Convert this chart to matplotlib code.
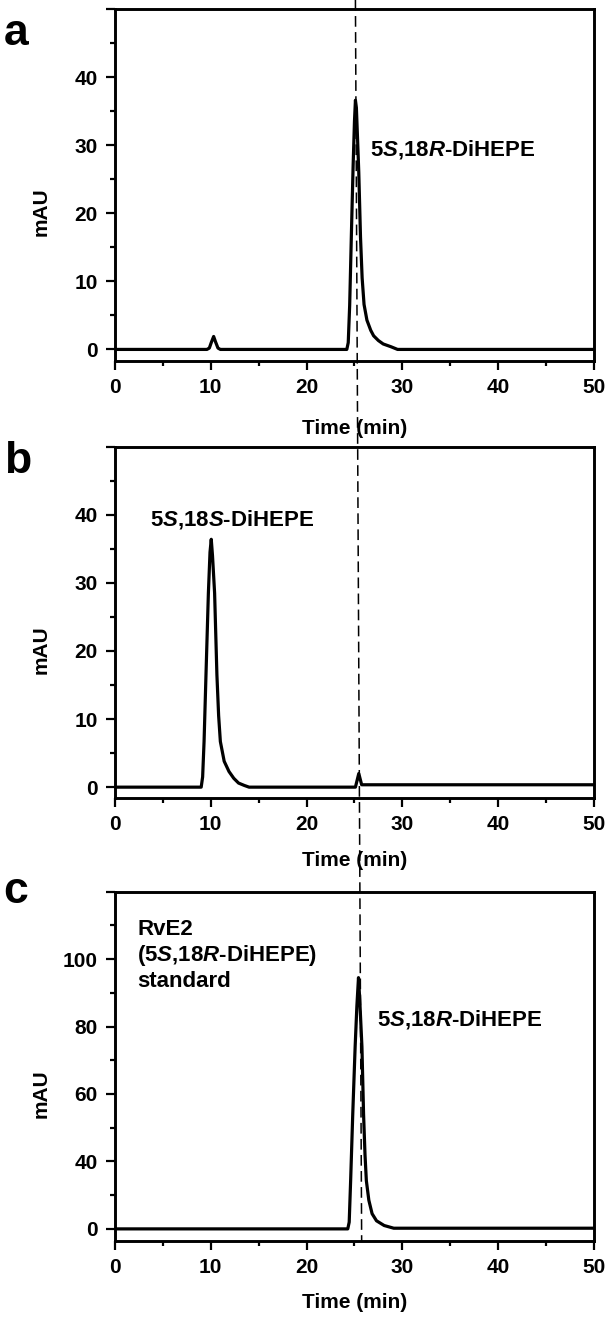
import matplotlib
matplotlib.use('Agg')
import matplotlib.pyplot as plt
from matplotlib.lines import Line2D
from matplotlib.ticker import MultipleLocator

plt.rcParams['font.family'] = ['Liberation Sans', 'DejaVu Sans']
plt.rcParams['font.weight'] = 'bold'
plt.rcParams['mathtext.fontset'] = 'custom'
plt.rcParams['mathtext.rm'] = 'Liberation Sans:bold'
plt.rcParams['mathtext.it'] = 'Liberation Sans:bold:italic'
plt.rcParams['mathtext.bf'] = 'Liberation Sans:bold'

# 色谱数据 (时间 min, mAU)
time_a = [0, 9.6, 9.85, 10.05, 10.3, 10.5, 10.75, 11.0, 24.2, 24.35, 24.5, 24.68, 24.86,
          25.0, 25.1, 25.2, 25.32, 25.45, 25.63, 25.8, 26.0, 26.3, 26.7, 27.0, 27.5,
          28.0, 28.8, 29.5, 50]
mau_a = [0, 0, 0.2, 1.0, 1.9, 1.1, 0.2, 0, 0, 1.0, 6.5, 17, 27,
         33.5, 36.6, 35.5, 31, 26, 16.5, 10.5, 6.6, 4.3, 2.8, 2.0, 1.3,
         0.8, 0.4, 0, 0]

time_b = [0, 9.0, 9.15, 9.3, 9.5, 9.75, 9.92, 10.05, 10.18, 10.4, 10.64, 10.82, 11.0,
          11.4, 11.9, 12.4, 12.9, 13.5, 14.0, 25.1, 25.45, 25.75, 50]
mau_b = [0, 0, 1.5, 6.7, 16.5, 28.5, 34.5, 36.4, 34, 28.5, 16.5, 10.5, 6.7,
         3.8, 2.3, 1.3, 0.6, 0.25, 0, 0, 2.0, 0.35, 0.35]

# 面板c: 原图刻度标签为 0,40,60,80,100 (等间距)，数据按刻度位置记录
time_c = [0, 24.3, 24.45, 24.6, 24.82, 25.07, 25.25, 25.42, 25.55, 25.78, 25.95, 26.1,
          26.24, 26.5, 26.84, 27.3, 28.1, 29.1, 50]
mau_c = [0, 0, 2, 14.3, 34, 54, 66, 74.5, 68, 54, 34, 22,
         14.3, 8.5, 4.5, 2.4, 1.0, 0.2, 0.2]

yticks_ab = [0, 10, 20, 30, 40, 50]
ylabels_ab = ['0', '10', '20', '30', '40', '']
yticks_c = [0, 20, 40, 60, 80, 100]
ylabels_c = ['0', '40', '60', '80', '100', '']

label_r = r'5$\mathit{S}$,18$\mathit{R}$-DiHEPE'
label_s = r'5$\mathit{S}$,18$\mathit{S}$-DiHEPE'
dash_times = [25.1, 25.75]

FS = 15
FS_ANN = 16

fig = plt.figure(figsize=(6.09, 13.18), dpi=100)
left, width = 0.1888, 0.7865
ax_a = fig.add_axes([left, 0.7261, width, 0.2671])
ax_b = fig.add_axes([left, 0.3945, width, 0.2666])
ax_c = fig.add_axes([left, 0.0584, width, 0.2651])


def setup(ax, ylim, yticks, ylabels, yminor, xlab_y):
    ax.set_xlim(0, 50)
    ax.set_ylim(*ylim)
    ax.xaxis.set_major_locator(MultipleLocator(10))
    ax.xaxis.set_minor_locator(MultipleLocator(5))
    ax.set_yticks(yticks)
    ax.set_yticklabels(ylabels)
    ax.yaxis.set_minor_locator(MultipleLocator(yminor))
    ax.tick_params(which='major', direction='out', length=6.5, width=1.6,
                   labelsize=FS, pad=6)
    ax.tick_params(which='minor', direction='out', length=3.5, width=1.6)
    for s in ax.spines.values():
        s.set_linewidth(2.1)
    ax.set_ylabel('mAU', fontsize=FS, fontweight='bold')
    ax.yaxis.set_label_coords(-0.135, 0.423)
    ax.set_xlabel('Time (min)', fontsize=FS, fontweight='bold', va='top')
    ax.xaxis.set_label_coords(0.5, xlab_y)


ax_a.plot(time_a, mau_a, color='black', lw=2.3)
setup(ax_a, (-1.7, 50), yticks_ab, ylabels_ab, 5, -0.165)
ax_a.text(26.6, 29.4, label_r, fontsize=FS_ANN, ha='left', va='center')

ax_b.plot(time_b, mau_b, color='black', lw=2.3)
setup(ax_b, (-1.6, 50), yticks_ab, ylabels_ab, 5, -0.15)
ax_b.text(3.7, 39.3, label_s, fontsize=FS_ANN, ha='left', va='center')

ax_c.plot(time_c, mau_c, color='black', lw=2.3)
setup(ax_c, (-3.6, 100), yticks_c, ylabels_c, 10, -0.15)
ax_c.text(2.35, 88.8, 'RvE2', fontsize=FS_ANN, ha='left', va='center')
ax_c.text(2.35, 81.2, r'(5$\mathit{S}$,18$\mathit{R}$-DiHEPE)', fontsize=FS_ANN, ha='left', va='center')
ax_c.text(2.35, 73.5, 'standard', fontsize=FS_ANN, ha='left', va='center')
ax_c.text(27.3, 62.1, label_r, fontsize=FS_ANN, ha='left', va='center')

# 面板字母
for y, letter in [(0.9659, 'a'), (0.6411, 'b'), (0.3149, 'c')]:
    fig.text(0.006, y, letter, fontsize=32, fontweight='bold', va='baseline', ha='left')

# 贯穿三个面板的虚线
to_fig = fig.transFigure.inverted()
x_top = to_fig.transform(ax_a.transData.transform((dash_times[0], 50)))[0]
p_bot = to_fig.transform(ax_c.transData.transform((dash_times[1], -3.6)))
fig.add_artist(Line2D([x_top, p_bot[0]], [1.0, p_bot[1]], color='black', lw=1.1,
                      linestyle=(0, (7, 3.5)), transform=fig.transFigure))

fig.savefig('out.png', dpi=100)
